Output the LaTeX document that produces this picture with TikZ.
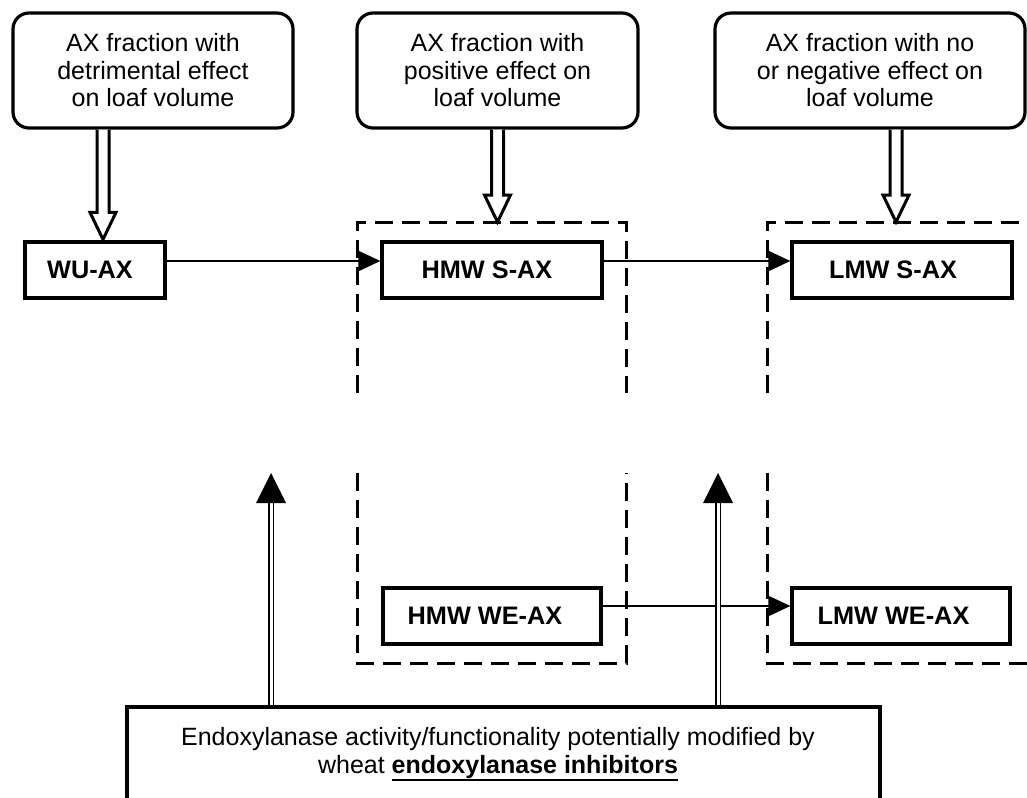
\documentclass[tikz,border=0pt]{standalone}
\usepackage{fontspec}
\setmainfont{Liberation Sans}
\usetikzlibrary{arrows.meta,calc}
\newcommand\thickul[1]{\setbox0\hbox{#1}\leavevmode\rlap{\raisebox{-8pt}{\rule{\wd0}{2.8pt}}}\box0}
\begin{document}
\begin{tikzpicture}[x=1pt,y=-1pt,
  every node/.style={font=\fontsize{25}{27.5}\selectfont},
  topbox/.style={draw, line width=3.2pt, rounded corners=16pt, align=center, minimum height=115, inner sep=0pt},
  frac/.style={draw, line width=3.2pt, minimum height=56, font=\fontsize{25.3}{28}\selectfont\bfseries, inner sep=0pt},
  conn/.style={line width=2.4pt, -{Triangle[length=22pt,width=20pt]}},
  grp/.style={line width=3pt, dash pattern=on 18pt off 9pt},
  hollow/.style={line width=3pt, fill=white, line join=miter},
  upshaft/.style={double, double distance=3pt, line width=1.8pt}
]
\useasboundingbox (0,0) rectangle (1027,797);
\clip (0,0) rectangle (1027,797);

% top boxes
\node[topbox, minimum width=280] (t1) at (153,70.5) {AX fraction with\\detrimental effect\\on loaf volume};
\node[topbox, minimum width=281] (t2) at (497.5,70.5) {AX fraction with\\positive effect on\\loaf volume};
\node[topbox, minimum width=310] (t3) at (870,70.5) {AX fraction with no\\or negative effect on\\loaf volume};

% fraction boxes
\node[frac, minimum width=140] (wu) at (95,270) {WU-AX\hspace*{10pt}};
\node[frac, minimum width=220] (hs) at (492,270) {HMW S-AX\hspace*{10pt}};
\node[frac, minimum width=220] (ls) at (902,270) {LMW S-AX\hspace*{18pt}};
\node[frac, minimum width=218] (hw) at (492,616) {HMW WE-AX\hspace*{14pt}};
\node[frac, minimum width=218] (lw) at (901,616) {LMW WE-AX\hspace*{15pt}};

% bottom box
\node[draw, line width=3.2pt, minimum width=753, minimum height=95, inner sep=0pt, align=center] (bot) at (503.5,754.5)
  {Endoxylanase activity/functionality potentially modified by\hspace*{11pt}\\wheat \thickul{\bfseries endoxylanase inhibitors}\hspace*{11pt}};

% dashed groups
\coordinate (g1tl) at (357,222);
\coordinate (g1br) at (626,663);
\coordinate (g2tl) at (767,222);
\coordinate (g2br) at (1045,663);
\draw[grp] (g1tl |- 0,393) -- (g1tl) -- (g1br |- g1tl) -- (g1br |- 0,393);
\draw[grp] (g1tl |- 0,473) -- (g1tl |- g1br) -- (g1br) -- (g1br |- 0,473);
\draw[grp] (g2tl |- 0,393) -- (g2tl) -- (g2br |- g2tl);
\draw[grp] (g2tl |- 0,473) -- (g2tl |- g2br) -- (g2br);

% hollow arrows
\coordinate (a1) at ($(wu.north)+(8,-1)$);
\coordinate (a2) at (t2.south |- g1tl);
\coordinate (a3) at ($(ls.north |- g2tl)+(-6,0)$);
\foreach \a/\s in {a1/t1, a2/t2, a3/t3}{
  \draw[hollow] ($(\a |- \s.south)+(-6,0)$) -- ($(\a)+(-6,-27)$) -- ($(\a)+(-13,-27)$) -- (\a)
     -- ($(\a)+(13,-27)$) -- ($(\a)+(6,-27)$) -- ($(\a |- \s.south)+(6,0)$);
}

% connectors
\draw[conn] ($(wu.east)+(0,-9)$) -- ($(hs.west)+(0,-9)$);
\draw[conn] ($(hs.east)+(0,-9)$) -- ($(ls.west)+(0,-9)$);
\draw[conn] ($(hw.east)+(0,-10)$) -- ($(lw.west)+(0,-10)$);

% up arrows
\coordinate (u1) at (271,473);
\coordinate (u2) at (718,473);
\foreach \u in {u1,u2}{
  \draw[upshaft] (\u |- bot.north) -- ($(\u)+(0,29)$);
  \fill ($(\u)+(-15,30)$) -- (\u) -- ($(\u)+(15,30)$) -- cycle;
}
\end{tikzpicture}
\end{document}
